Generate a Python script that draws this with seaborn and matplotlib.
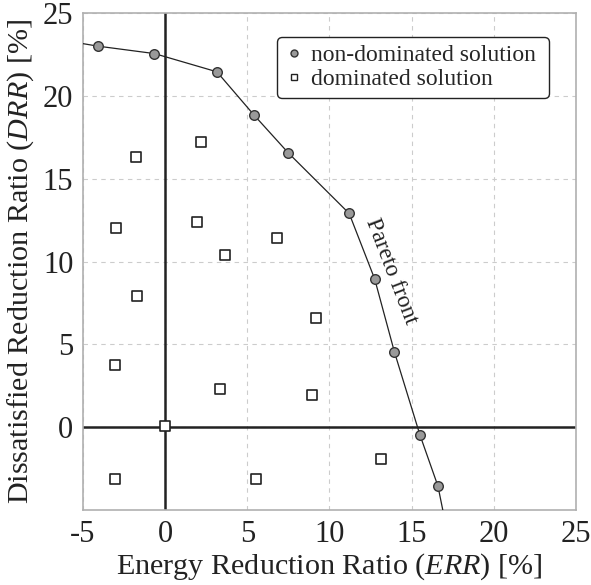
import matplotlib
matplotlib.use("Agg")
import matplotlib.pyplot as plt
import seaborn as sns
import pandas as pd
from matplotlib.lines import Line2D

# Non-dominated (Pareto) solutions
nd_err = [-4.1, -0.65, 3.15, 5.4, 7.5, 11.2, 12.75, 13.95, 15.5, 16.6]
nd_drr = [23.0, 22.55, 21.45, 18.85, 16.55, 12.9, 8.95, 4.55, -0.45, -3.55]
# Pareto front line, extended to the plot edges
front_err = [-5.6, -4.1, -0.65, 3.15, 5.4, 7.5, 11.2, 12.75, 13.95, 15.5, 16.6, 17.1]
front_drr = [23.25, 23.0, 22.55, 21.45, 18.85, 16.55, 12.9, 8.95, 4.55, -0.45, -3.55, -6.0]
# Dominated solutions
d_err = [-1.8, 2.2, -3.0, 1.95, 3.65, 6.8, -1.7, 9.15, -3.05, 3.35, 8.95, 0.0, -3.05, 5.5, 13.15]
d_drr = [16.3, 17.2, 12.0, 12.4, 10.4, 11.45, 7.95, 6.6, 3.75, 2.3, 1.95, 0.05, -3.1, -3.1, -1.9]

x_ticks = [-5, 0, 5, 10, 15, 20, 25]
y_ticks = [0, 5, 10, 15, 20, 25]

sns.set_style("white")
plt.rcParams['font.family'] = ['Liberation Serif', 'DejaVu Serif']
plt.rcParams['mathtext.fontset'] = 'custom'
plt.rcParams['mathtext.it'] = 'Liberation Serif:italic'
plt.rcParams['mathtext.rm'] = 'Liberation Serif'
plt.rcParams['axes.unicode_minus'] = False

fig = plt.figure(figsize=(5.91, 5.85), dpi=100)
ax = fig.add_axes([0.1404, 0.128, 0.8342, 0.8498])

ax.set_xlim(-5, 25)
ax.set_ylim(-5, 25)
ax.set_xticks(x_ticks)
ax.set_yticks(y_ticks)
ax.grid(True, color='#cccccc', linestyle=(0, (4, 4)), linewidth=0.8)
ax.set_axisbelow(True)
for s in ax.spines.values():
    s.set_color('#b0b0b0')
    s.set_linewidth(1.2)

ax.axhline(0, color='#222222', lw=1.8, zorder=2)
ax.axvline(0, color='#222222', lw=1.8, zorder=2)

front = pd.DataFrame({'ERR': front_err, 'DRR': front_drr})
sns.lineplot(data=front, x='ERR', y='DRR', sort=False, color='#222222', lw=0.9, ax=ax, zorder=3)

dom = pd.DataFrame({'ERR': d_err, 'DRR': d_drr})
sns.scatterplot(data=dom, x='ERR', y='DRR', marker='s', s=42, facecolor='white',
                edgecolor='#222222', linewidth=1.2, ax=ax, zorder=4)
nd = pd.DataFrame({'ERR': nd_err, 'DRR': nd_drr})
sns.scatterplot(data=nd, x='ERR', y='DRR', marker='o', s=48, facecolor='#999999',
                edgecolor='#333333', linewidth=1.0, ax=ax, zorder=5)

ax.text(13.75, 9.4, 'Pareto front', rotation=-69, rotation_mode='anchor',
        ha='center', va='center', fontsize=17, color='#222222')

ax.tick_params(axis='both', labelsize=22, length=0, pad=7, colors='#222222')
ax.set_xlabel(r'Energy Reduction Ratio ($\it{ERR}$) [%]', fontsize=21.7, color='#222222', labelpad=2)
ax.set_ylabel(r'Dissatisfied Reduction Ratio ($\it{DRR}$) [%]', fontsize=21.7, color='#222222', labelpad=5)

handles = [
    Line2D([], [], marker='o', linestyle='none', markerfacecolor='#999999',
           markeredgecolor='#333333', markersize=5, label='non-dominated solution'),
    Line2D([], [], marker='s', linestyle='none', markerfacecolor='white',
           markeredgecolor='#222222', markersize=4.5, label='dominated solution'),
]
leg = ax.legend(handles=handles, loc='upper right', bbox_to_anchor=(0.945, 0.952),
                fontsize=17, frameon=True, fancybox=True, handletextpad=0.3,
                borderpad=0.32, labelspacing=0.12, handlelength=0.8, borderaxespad=0)
leg.get_frame().set_edgecolor('#222222')
leg.get_frame().set_linewidth(1.0)
leg.get_frame().set_alpha(1)
# extra right padding like the reference
leg._legend_box.sep = 0
for t in leg.get_texts():
    t.set_text(t.get_text() + ' ')

fig.savefig('out.png', dpi=100)
